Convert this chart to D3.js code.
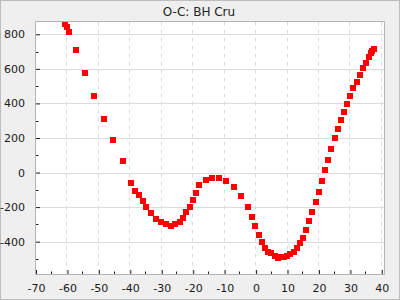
<!DOCTYPE html>
<html>
<head>
<meta charset="utf-8">
<script src="https://cdn.jsdelivr.net/npm/d3@7"></script>
<style>
  html, body { margin: 0; padding: 0; background: #efefef; }
  svg { display: block; font-family: "DejaVu Sans", sans-serif; }
</style>
</head>
<body>
<svg id="chart" width="400" height="300"></svg>
<script>
// O-C residuals (phase, days)
var phase = [-60.7, -60.1, -59.4, -57.2, -54.3, -51.5, -48.3, -45.5, -42.3,
  -39.7, -38.5, -37.2, -35.9, -35.0, -33.4, -31.8, -30.2, -28.6, -27.0, -25.8,
  -24.2, -23.2, -22.3, -21.0, -20.1, -19.1, -18.2, -15.9, -14.0, -11.8, -9.6,
  -7.0, -4.8, -2.6, -1.3, -0.4, 0.9, 1.8, 2.8, 3.7, 4.7, 6.0, 6.9, 7.9, 8.8,
  9.8, 10.7, 12.0, 12.9, 13.9, 14.9, 15.8, 16.8, 17.7, 19.0, 19.9, 20.9, 21.8,
  22.8, 23.7, 25.0, 26.0, 26.9, 27.9, 28.8, 29.8, 30.7, 32.0, 32.9, 33.9, 34.9,
  35.8, 36.4, 36.8, 37.4];
var oc = [860, 842, 813, 709, 576, 443, 310, 189, 68,
  -60, -106, -129, -164, -198, -233, -268, -285, -297, -308, -297,
  -285, -262, -227, -198, -158, -117, -71, -42, -31, -31, -48,
  -83, -135, -198, -256, -308, -360, -400, -435, -458, -464, -482, -493, -487, -487,
  -482, -470, -458, -435, -406, -377, -331, -279, -227, -169, -112, -48, 16,
  73, 136, 197, 252, 305, 351, 397, 443, 490, 524, 565, 605, 634,
  669, 692, 703, 715];
var xTicks = [-70, -60, -50, -40, -30, -20, -10, 0, 10, 20, 30, 40];
var yTicks = [-400, -200, 0, 200, 400, 600, 800];
var title = "O-C: BH Cru";

(function () {
  var W = 400, H = 300,
      pLeft = 35.5, pTop = 21.5, pRight = 384.5, pBottom = 274.5;

  var svg = d3.select('#chart');

  svg.append('rect')
     .attr('x', 0.5).attr('y', 0.5)
     .attr('width', W - 1).attr('height', H - 1)
     .attr('fill', '#efefef')
     .attr('stroke', '#bdbdbd');

  svg.append('text')
     .attr('x', 199).attr('y', 16)
     .attr('text-anchor', 'middle')
     .attr('font-size', 12)
     .attr('fill', '#222')
     .text(title);

  var x = d3.scaleLinear().domain([-70, 41]).range([pLeft + 0.5, pRight + 0.5]);
  var y = d3.scaleLinear().domain([-590, 874]).range([pBottom, pTop]);

  svg.append('rect')
     .attr('x', pLeft).attr('y', pTop)
     .attr('width', pRight - pLeft).attr('height', pBottom - pTop)
     .attr('fill', '#fff');

  // grid
  svg.append('g').selectAll('line')
     .data(yTicks).enter().append('line')
     .attr('x1', pLeft).attr('x2', pRight)
     .attr('y1', function (d) { return Math.round(y(d)) + 0.5; })
     .attr('y2', function (d) { return Math.round(y(d)) + 0.5; })
     .attr('stroke', '#dcdcdc');

  svg.append('g').selectAll('line')
     .data(xTicks.slice(1)).enter().append('line')
     .attr('y1', pTop).attr('y2', pBottom)
     .attr('x1', function (d) { return Math.round(x(d)) - 0.5; })
     .attr('x2', function (d) { return Math.round(x(d)) - 0.5; })
     .attr('stroke', '#dcdcdc')
     .attr('stroke-dasharray', '4,4');

  // axes, ticks drawn inward; plain hyphen for negatives
  var fmt = function (d) { return String(d); };
  var xAxis = d3.axisBottom(x).tickValues(xTicks).tickSize(-5).tickPadding(9).tickFormat(fmt);
  var yAxis = d3.axisLeft(y).tickValues(yTicks).tickSize(-5).tickPadding(10).tickFormat(fmt);

  function styleAxis(g) {
    g.select('.domain').remove();
    g.selectAll('.tick line').attr('stroke', '#222');
    g.selectAll('.tick text').attr('fill', '#1a1a1a')
     .attr('font-size', 11).attr('font-family', '"DejaVu Sans", sans-serif');
  }

  svg.append('g').attr('transform', 'translate(0,' + (pBottom + 0.5) + ')')
     .call(xAxis).call(styleAxis);
  svg.append('g').attr('transform', 'translate(' + (pLeft - 0.5) + ',0)')
     .call(yAxis).call(styleAxis);

  // minor ticks
  var xMinor = d3.range(-65, 41, 10), yMinor = d3.range(-500, 874, 200);
  svg.append('g').selectAll('line')
     .data(xMinor).enter().append('line')
     .attr('x1', function (d) { return Math.round(x(d)) - 0.5; })
     .attr('x2', function (d) { return Math.round(x(d)) - 0.5; })
     .attr('y1', pBottom).attr('y2', pBottom - 3)
     .attr('stroke', '#222');
  svg.append('g').selectAll('line')
     .data(yMinor).enter().append('line')
     .attr('y1', function (d) { return Math.round(y(d)) + 0.5; })
     .attr('y2', function (d) { return Math.round(y(d)) + 0.5; })
     .attr('x1', pLeft).attr('x2', pLeft + 3)
     .attr('stroke', '#222');

  // points
  svg.append('g').selectAll('rect')
     .data(phase).enter().append('rect')
     .attr('x', function (d) { return Math.round(x(d) - 3); })
     .attr('y', function (d, i) { return Math.round(y(oc[i]) - 3); })
     .attr('width', 6).attr('height', 6)
     .attr('fill', '#ff0000');

  // plot frame
  svg.append('rect')
     .attr('x', pLeft).attr('y', pTop)
     .attr('width', pRight - pLeft).attr('height', pBottom - pTop)
     .attr('fill', 'none')
     .attr('stroke', '#b4b4b4');
})();
</script>
</body>
</html>
